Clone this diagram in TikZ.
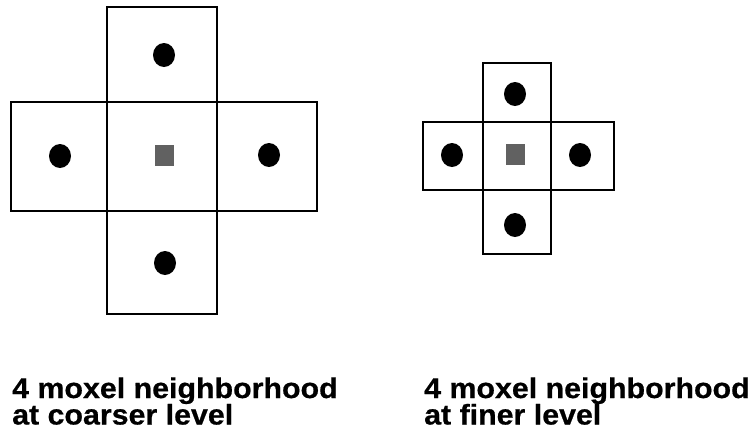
\documentclass[tikz,border=0pt]{standalone}
\usepackage{fontspec}
\usetikzlibrary{shapes.geometric}
\newfontfamily\capfont[FakeStretch=1.065,FakeBold=0.6]{Liberation Sans Bold}
\begin{document}
\begin{tikzpicture}[x=1pt,y=-1pt,
  cellbox/.style={draw=black, line width=1.2pt},
  moxel/.style={ellipse, fill=black, inner sep=0pt, minimum width=22pt, minimum height=24pt},
  centre/.style={rectangle, fill=black!62, inner sep=0pt, minimum width=19pt, minimum height=21pt},
  caption/.style={anchor=base west, inner sep=0pt, font=\capfont\fontsize{28.5}{28.5}\selectfont}]
  \useasboundingbox (0,0) rectangle (754,432);

  % coarser level cross
  \draw[cellbox] (107,7) rectangle (217,102);
  \draw[cellbox] (11,102) rectangle (107,211);
  \draw[cellbox] (107,102) rectangle (217,211);
  \draw[cellbox] (217,102) rectangle (317,211);
  \draw[cellbox] (107,211) rectangle (217,314);
  \node[moxel] (cN) at (164,55) {};
  \node[moxel] (cW) at (60,156) {};
  \node[moxel] (cE) at (269,155) {};
  \node[moxel] (cS) at (165,263) {};
  \node[centre] (cC) at (164.5,155.5) {};

  % finer level cross
  \draw[cellbox] (483,63) rectangle (551,122);
  \draw[cellbox] (423,122) rectangle (483,190);
  \draw[cellbox] (483,122) rectangle (551,190);
  \draw[cellbox] (551,122) rectangle (614,190);
  \draw[cellbox] (483,190) rectangle (551,254);
  \node[moxel] (fN) at (515,94) {};
  \node[moxel] (fW) at (452,155) {};
  \node[moxel] (fE) at (580,155) {};
  \node[moxel] (fS) at (515,225) {};
  \node[centre] (fC) at (515.5,154.5) {};

  % captions
  \node[caption] (capL1) at (12,398) {4 moxel neighborhood};
  \node[caption] (capL2) at (12,424.5) {at coarser level};
  \node[caption] (capR1) at (424,398) {4 moxel neighborhood};
  \node[caption] (capR2) at (424,424.5) {at finer level};
\end{tikzpicture}
\end{document}
